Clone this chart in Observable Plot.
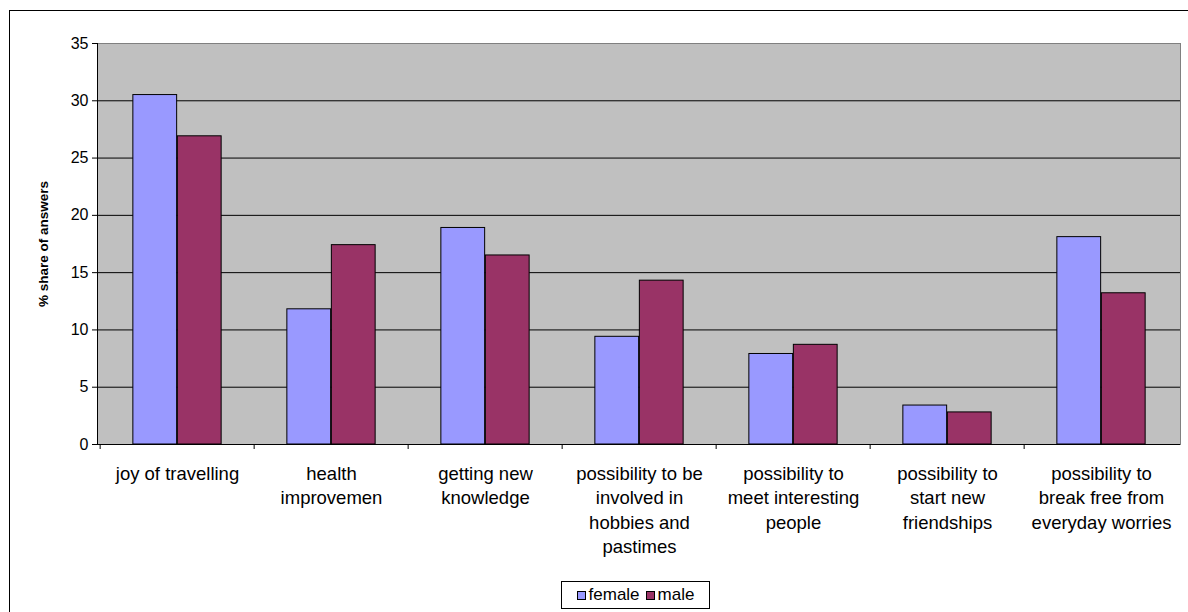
<!DOCTYPE html>
<html><head><meta charset="utf-8">
<script src="https://cdn.jsdelivr.net/npm/d3@7"></script>
<script src="https://cdn.jsdelivr.net/npm/@observablehq/plot@0.6"></script>
<style>
html,body{margin:0;padding:0;background:#fff;}
body{width:1188px;height:612px;position:relative;overflow:hidden;font-family:"Liberation Sans",Arial,sans-serif;}
#chart{position:absolute;left:0;top:0;}
#border{position:absolute;left:9px;top:10px;width:1190px;height:610px;border:1px solid #000;pointer-events:none;}
#legend{position:absolute;left:561px;top:581px;width:147px;height:26px;border:1px solid #000;background:#fff;display:flex;align-items:center;justify-content:center;font-size:17px;color:#000;white-space:nowrap;}
#legend .sw{display:inline-block;width:7px;height:7px;border:1px solid #000;margin:0 3px 0 0;}
#legend .item{display:flex;align-items:center;margin:0 3px;}
</style>
</head><body>
<div id="chart"></div>
<div id="border"></div>
<div id="legend"></div>
<script>
const categories = ["joy of travelling","health improvemen","getting new knowledge","possibility to be involved in hobbies and pastimes","possibility to meet interesting people","possibility to start new friendships","possibility to break free from everyday worries"];
const tickLabels = ["joy of travelling","health\nimprovemen","getting new\nknowledge","possibility to be\ninvolved in\nhobbies and\npastimes","possibility to\nmeet interesting\npeople","possibility to\nstart new\nfriendships","possibility to\nbreak free from\neveryday worries"];
const female = [30.5, 11.8, 18.9, 9.4, 7.9, 3.4, 18.1];
const male = [26.9, 17.4, 16.5, 14.3, 8.7, 2.8, 13.2];
const series = ["female", "male"];
const colors = ["#9999FF", "#993366"];
const yTicks = [0, 5, 10, 15, 20, 25, 30, 35];
const yLabel = "% share of answers";

const rows = categories.flatMap((c, i) => [
  {category: c, sex: series[0], value: female[i]},
  {category: c, sex: series[1], value: male[i]}
]);

const W = 1188, H = 580;
const mL = 97, mR = 8, mT = 43, mB = 136;
const band = (W - mL - mR) / categories.length;
const barW = 44.5;
const outer = (band - 2 * barW) / 2;
const labelMap = new Map(categories.map((c, i) => [c, tickLabels[i]]));

const chart = Plot.plot({
  width: W, height: H,
  marginLeft: mL, marginRight: mR, marginTop: mT, marginBottom: mB,
  style: {fontFamily: "'Liberation Sans', Arial, sans-serif", fontSize: "13px", color: "#000", background: "transparent"},
  x: {domain: categories, padding: 0, axis: null},
  y: {domain: [0, 35], axis: null},
  color: {domain: series, range: colors},
  marks: [
    Plot.frame({fill: "#C0C0C0", stroke: null}),
    Plot.ruleY(yTicks.filter(d => d > 0 && d < 35), {stroke: "#000", strokeWidth: 1}),
    Plot.frame({anchor: "top", stroke: "#808080"}),
    Plot.frame({anchor: "right", stroke: "#808080"}),
    Plot.barY(rows.filter(d => d.sex === series[0]), {x: "category", y: "value", fill: "sex", stroke: "#000", strokeWidth: 1, insetLeft: outer, insetRight: band - outer - barW}),
    Plot.barY(rows.filter(d => d.sex === series[1]), {x: "category", y: "value", fill: "sex", stroke: "#000", strokeWidth: 1, insetLeft: outer + barW, insetRight: outer}),
    Plot.ruleY([0], {stroke: "#000", strokeWidth: 1}),
    Plot.frame({anchor: "left", stroke: "#000"}),
    Plot.axisY({ticks: yTicks, tickSize: 5, tickPadding: 4, fontSize: 16, label: null, stroke: "#000"}),
    Plot.axisX({tickSize: 5, tickFormat: () => "", dx: -band / 2, label: null, stroke: "#000"}),
    Plot.axisX({tickSize: 0, tickPadding: 18, tickFormat: d => labelMap.get(d), lineHeight: 1.32, fontSize: 18.5, label: null}),
    Plot.text([yLabel], {frameAnchor: "left", textAnchor: "middle", rotate: -90, dx: -54, fontWeight: "bold", fontSize: 13.5, fill: "#000"})
  ]
});
document.getElementById("chart").appendChild(chart);

const legend = document.getElementById("legend");
series.forEach((s, i) => {
  const item = document.createElement("span");
  item.className = "item";
  const sw = document.createElement("span");
  sw.className = "sw";
  sw.style.background = colors[i];
  item.appendChild(sw);
  item.appendChild(document.createTextNode(s));
  legend.appendChild(item);
});
</script>
</body></html>
